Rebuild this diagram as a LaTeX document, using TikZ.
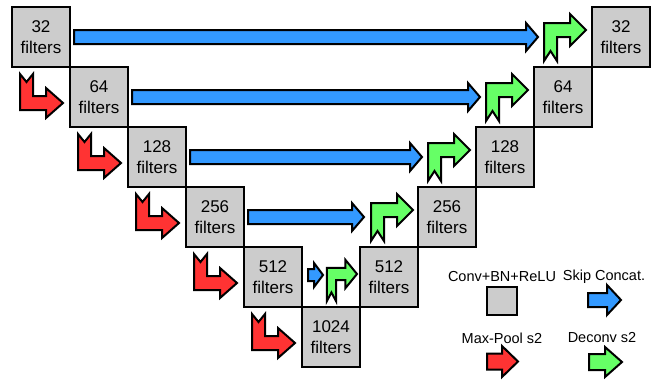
\documentclass[tikz,border=0pt]{standalone}
\usepackage{fontspec}
\setmainfont{Liberation Sans}
\definecolor{cellgray}{HTML}{CCCCCC}
\definecolor{skipblue}{HTML}{3399FF}
\definecolor{poolred}{HTML}{FF3333}
\definecolor{upgreen}{HTML}{66FF66}
\tikzset{
  cell/.style={draw=black, line width=2pt, fill=cellgray, minimum width=58pt,
    minimum height=60pt, inner sep=0pt, align=center,
    font=\fontsize{17}{21}\selectfont},
  outline/.style={draw=black, line width=2pt, line join=miter},
  lbl/.style={font=\fontsize{14.5}{17}\selectfont, inner sep=0pt},
  % bent max-pool arrow, origin at its tip
  poolarrow/.pic={
    \filldraw[outline, fill=poolred] (-43,-29) -- (-36.5,-21) -- (-30,-29) -- (-30,-7)
      -- (-17,-7) -- (-17,-15) -- (0,0) -- (-17,15) -- (-17,7) -- (-43,7) -- cycle;
  },
  % bent deconvolution arrow, origin at its tip
  uparrow/.pic={
    \filldraw[outline, fill=upgreen] (-42,31) -- (-42,-7) -- (-16,-7) -- (-16,-16)
      -- (0,0) -- (-16,16) -- (-16,7) -- (-29,7) -- (-29,31) -- (-35.5,21) -- cycle;
  }
}
% straight block arrow: start x, tip x, centre y, shaft half height, head half height, head length, fill
\newcommand\blockarrow[7]{%
  \filldraw[outline, fill=#7] (#1,#3-#4) -- (#2-#6,#3-#4) -- (#2-#6,#3-#5) -- (#2,#3)
    -- (#2-#6,#3+#5) -- (#2-#6,#3+#4) -- (#1,#3+#4) -- cycle;}
\begin{document}
\begin{tikzpicture}[x=1pt, y=-1pt]
\useasboundingbox (0,0) rectangle (656,383);

% contracting path
\node[cell] (d0) at (41,37)  {32\\filters};
\node[cell] (d1) at (99,97)  {64\\filters};
\node[cell] (d2) at (157,157) {128\\filters};
\node[cell] (d3) at (215,217) {256\\filters};
\node[cell] (d4) at (273,277) {512\\filters};
\node[cell] (d5) at (331,337) {1024\\filters};

% expanding path
\node[cell] (u4) at (389,277) {512\\filters};
\node[cell] (u3) at (447,217) {256\\filters};
\node[cell] (u2) at (505,157) {128\\filters};
\node[cell] (u1) at (563,97)  {64\\filters};
\node[cell] (u0) at (621,37)  {32\\filters};

% max-pool steps
\pic at (63,103)  {poolarrow};
\pic at (121,163) {poolarrow};
\pic at (179,223) {poolarrow};
\pic at (237,283) {poolarrow};
\pic at (295,343) {poolarrow};

% skip connections
\blockarrow{74}{538}{37}{7}{14}{12}{skipblue}
\blockarrow{132}{480}{97}{7}{14}{12}{skipblue}
\blockarrow{190}{422}{157}{7}{14}{12}{skipblue}
\blockarrow{248}{364}{217}{7}{14}{12}{skipblue}
\blockarrow{308}{323}{275}{6}{12}{9}{skipblue}

% deconvolution steps
\pic at (586,30)  {uparrow};
\pic at (528,90)  {uparrow};
\pic at (470,150) {uparrow};
\pic at (413,210) {uparrow};
\pic[xscale=0.72, yscale=0.88] at (357,274) {uparrow};

% legend
\node[lbl] (lconv) at (502,277) {Conv+BN+ReLU};
\node[draw=black, line width=2pt, fill=cellgray, minimum width=30pt,
  minimum height=28pt, inner sep=0pt] (lbox) at (502,300.5) {};
\node[lbl] (lskip) at (604,277) {Skip Concat.};
\blockarrow{588}{621}{300}{7}{15}{14}{skipblue}
\node[lbl] (lpool) at (502,338) {Max-Pool s2};
\blockarrow{487}{518}{361.5}{8}{15.5}{16}{poolred}
\node[lbl] (ldeconv) at (602,338) {Deconv s2};
\blockarrow{589}{622}{362}{8}{15}{17}{upgreen}
\end{tikzpicture}
\end{document}
